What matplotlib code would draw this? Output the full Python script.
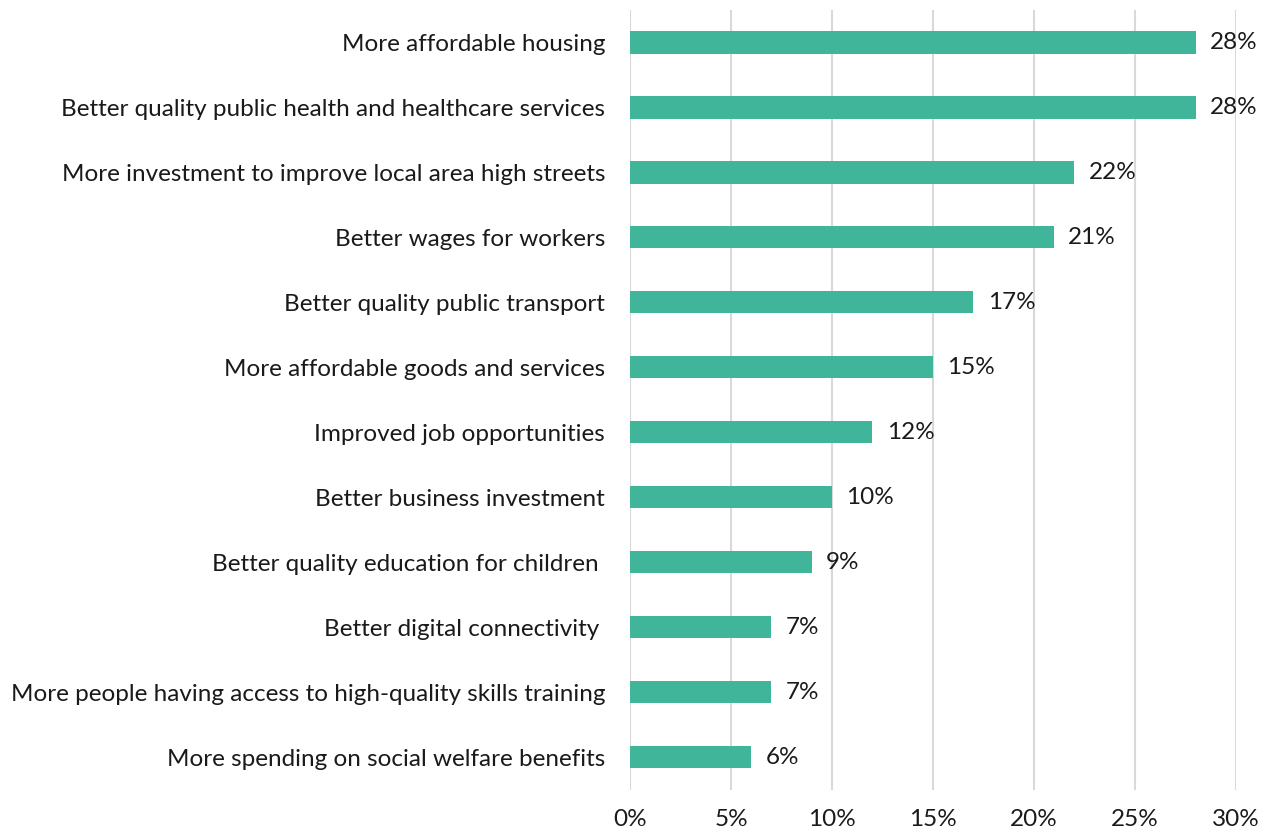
import matplotlib
matplotlib.use("Agg")
import matplotlib.pyplot as plt

plt.rcParams["font.family"] = ["Lato", "DejaVu Sans"]

CATEGORIES = [
    "More affordable housing",
    "Better quality public health and healthcare services",
    "More investment to improve local area high streets",
    "Better wages for workers",
    "Better quality public transport",
    "More affordable goods and services",
    "Improved job opportunities",
    "Better business investment",
    "Better quality education for children ",
    "Better digital connectivity ",
    "More people having access to high-quality skills training",
    "More spending on social welfare benefits",
]
VALUES = [28, 28, 22, 21, 17, 15, 12, 10, 9, 7, 7, 6]
XTICKS = [0, 5, 10, 15, 20, 25, 30]

BAR_COLOR = "#40b59a"
GRID_COLOR = "#d9d9d9"
FS = 17.5

fig = plt.figure(figsize=(12.69, 8.34), dpi=100)
ax = fig.add_axes([0.4965, 0.053, 0.4775, 0.935])

y = range(len(CATEGORIES))
ax.barh(y, VALUES, height=0.34, color=BAR_COLOR, zorder=3)
for yi, v in zip(y, VALUES):
    ax.text(v + 0.7, yi, f"{v}%", va="center", ha="left", fontsize=FS, color="#1a1a1a")

ax.set_ylim(len(CATEGORIES) - 0.5, -0.5)
ax.set_xlim(0, 30)
ax.set_yticks(list(y))
ax.set_yticklabels(CATEGORIES, fontsize=FS, color="#1a1a1a")
ax.set_xticks(XTICKS)
ax.set_xticklabels([f"{t}%" for t in XTICKS], fontsize=FS, color="#1a1a1a")
ax.tick_params(axis="y", length=0, pad=18)
ax.tick_params(axis="x", length=0, pad=14)
ax.grid(axis="x", color=GRID_COLOR, linewidth=1.5, zorder=0)
for s in ax.spines.values():
    s.set_visible(False)

fig.savefig("out.png", dpi=100)
